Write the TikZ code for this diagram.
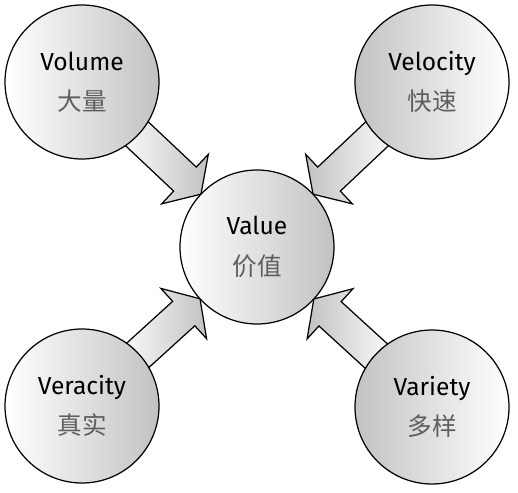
\documentclass[tikz,border=0pt]{standalone}
\usepackage{fontspec}
\setmainfont{Fira Sans}
\newfontfamily\cjk{Noto Sans CJK SC}
\usetikzlibrary{calc,backgrounds}
\definecolor{cngray}{HTML}{5E5E5E}
\definecolor{shadedark}{HTML}{C2C2C2}

\begin{document}
\begin{tikzpicture}[
    font=\fontsize{14}{23}\selectfont,
    bubble/.style={
        circle,
        draw,
        line width=0.7pt,
        minimum size=3.08cm,
        inner sep=0pt,
        align=center
    },
    lightleft/.style={left color=white, right color=shadedark},
    lightright/.style={left color=shadedark, right color=white},
    fat/.style={draw, line width=0.7pt, line join=miter}
]
\useasboundingbox (0,0) rectangle (10.36,-9.84);

    % Nodes
    \node [bubble, lightleft] (value) at (5.14,-4.94) {Value\\{\cjk\color{cngray}价值}};
    \node [bubble, lightleft] (volume) at (1.64,-1.64) {Volume\\{\cjk\color{cngray}大量}};
    \node [bubble, lightright] (velocity) at (8.64,-1.64) {Velocity\\{\cjk\color{cngray}快速}};
    \node [bubble, lightleft] (veracity) at (1.64,-8.12) {Veracity\\{\cjk\color{cngray}真实}};
    \node [bubble, lightright] (variety) at (8.64,-8.14) {Variety\\{\cjk\color{cngray}多样}};

    % Edges
    \begin{scope}[on background layer]
    \foreach \src/\look in {volume/lightleft, velocity/lightright, veracity/lightleft, variety/lightright} {
        \coordinate (s) at ($(\src)!1.2cm!(value)$);
        \coordinate (t) at ($(value)!1.54cm!(\src)$);
        \coordinate (b) at ($(value)!1.98cm!(\src)$);
        \path [fat, \look] ($(s)!0.33cm!90:(t)$) -- ($(b)!0.33cm!-90:(s)$)
            -- ($(b)!0.68cm!-90:(s)$) -- (t) -- ($(b)!0.68cm!90:(s)$)
            -- ($(b)!0.33cm!90:(s)$) -- ($(s)!0.33cm!-90:(t)$) -- cycle;
    }
    \end{scope}

\end{tikzpicture}
\end{document}
